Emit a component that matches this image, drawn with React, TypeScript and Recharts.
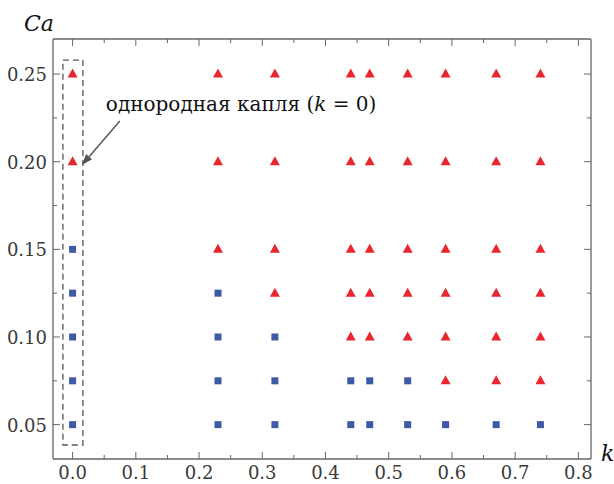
import React from 'react';
import { ScatterChart, Scatter, XAxis, YAxis, ReferenceArea, ReferenceLine, ReferenceDot } from 'recharts';

// k values used in the experiments
const kValues = [0, 0.23, 0.32, 0.44, 0.47, 0.53, 0.59, 0.67, 0.74];

// Triangles (red): regimes with break-up
const triangles = [
  { k: 0, ca: 0.25 }, { k: 0.23, ca: 0.25 }, { k: 0.32, ca: 0.25 }, { k: 0.44, ca: 0.25 }, { k: 0.47, ca: 0.25 },
  { k: 0.53, ca: 0.25 }, { k: 0.59, ca: 0.25 }, { k: 0.67, ca: 0.25 }, { k: 0.74, ca: 0.25 },
  { k: 0, ca: 0.2 }, { k: 0.23, ca: 0.2 }, { k: 0.32, ca: 0.2 }, { k: 0.44, ca: 0.2 }, { k: 0.47, ca: 0.2 },
  { k: 0.53, ca: 0.2 }, { k: 0.59, ca: 0.2 }, { k: 0.67, ca: 0.2 }, { k: 0.74, ca: 0.2 },
  { k: 0.23, ca: 0.15 }, { k: 0.32, ca: 0.15 }, { k: 0.44, ca: 0.15 }, { k: 0.47, ca: 0.15 },
  { k: 0.53, ca: 0.15 }, { k: 0.59, ca: 0.15 }, { k: 0.67, ca: 0.15 }, { k: 0.74, ca: 0.15 },
  { k: 0.32, ca: 0.125 }, { k: 0.44, ca: 0.125 }, { k: 0.47, ca: 0.125 },
  { k: 0.53, ca: 0.125 }, { k: 0.59, ca: 0.125 }, { k: 0.67, ca: 0.125 }, { k: 0.74, ca: 0.125 },
  { k: 0.44, ca: 0.1 }, { k: 0.47, ca: 0.1 }, { k: 0.53, ca: 0.1 }, { k: 0.59, ca: 0.1 }, { k: 0.67, ca: 0.1 }, { k: 0.74, ca: 0.1 },
  { k: 0.59, ca: 0.075 }, { k: 0.67, ca: 0.075 }, { k: 0.74, ca: 0.075 },
];

// Squares (blue): stable regimes
const squares = [
  { k: 0, ca: 0.15 },
  { k: 0, ca: 0.125 }, { k: 0.23, ca: 0.125 },
  { k: 0, ca: 0.1 }, { k: 0.23, ca: 0.1 }, { k: 0.32, ca: 0.1 },
  { k: 0, ca: 0.075 }, { k: 0.23, ca: 0.075 }, { k: 0.32, ca: 0.075 }, { k: 0.44, ca: 0.075 }, { k: 0.47, ca: 0.075 }, { k: 0.53, ca: 0.075 },
  { k: 0, ca: 0.05 }, { k: 0.23, ca: 0.05 }, { k: 0.32, ca: 0.05 }, { k: 0.44, ca: 0.05 }, { k: 0.47, ca: 0.05 },
  { k: 0.53, ca: 0.05 }, { k: 0.59, ca: 0.05 }, { k: 0.67, ca: 0.05 }, { k: 0.74, ca: 0.05 },
];

const xDomain = [-0.031, 0.82];
const yDomain = [0.0304, 0.27];
const xTicks = [0, 0.05, 0.1, 0.15, 0.2, 0.25, 0.3, 0.35, 0.4, 0.45, 0.5, 0.55, 0.6, 0.65, 0.7, 0.75, 0.8];
const xMajor = [0, 0.1, 0.2, 0.3, 0.4, 0.5, 0.6, 0.7, 0.8];
const yTicks = [0.05, 0.075, 0.1, 0.125, 0.15, 0.175, 0.2, 0.225, 0.25];
const yMajor = [0.05, 0.1, 0.15, 0.2, 0.25];

const annotationText = 'однородная капля';
const box = { x1: -0.0153, x2: 0.0163, y1: 0.0384, y2: 0.258 };
const arrow = [{ x: 0.0747, y: 0.2232 }, { x: 0.0147, y: 0.1981 }];
const annotationAnchor = { x: 0.0526, y: 0.2289 };

const FONT = 'DejaVu Serif';
const AXIS = '#666';
const TXT = '#3a3a3a';
const RED = '#e8262f';
const BLUE = '#3d5aa6';

const isMajor = (v: number, arr: number[]) => arr.some((m) => Math.abs(m - v) < 1e-9);

const BottomTick = (props: any) => {
  const { x, y, payload } = props;
  const major = isMajor(payload.value, xMajor);
  return (
    <g>
      <line x1={x} x2={x} y1={y} y2={y - (major ? 7 : 4)} stroke={AXIS} strokeWidth={1} />
      {major && (
        <text x={x} y={y + 20} textAnchor="middle" fontFamily={FONT} fontSize={18} fill={TXT}>
          {payload.value.toFixed(1)}
        </text>
      )}
    </g>
  );
};
const TopTick = (props: any) => {
  const { x, y, payload } = props;
  const major = isMajor(payload.value, xMajor);
  return <line x1={x} x2={x} y1={y} y2={y + (major ? 7 : 4)} stroke={AXIS} strokeWidth={1} />;
};
const LeftTick = (props: any) => {
  const { x, y, payload } = props;
  const major = isMajor(payload.value, yMajor);
  return (
    <g>
      <line x1={x} x2={x + (major ? 7 : 4)} y1={y} y2={y} stroke={AXIS} strokeWidth={1} />
      {major && (
        <text x={x - 6} y={y + 7} textAnchor="end" fontFamily={FONT} fontSize={18} fill={TXT}>
          {payload.value.toFixed(2)}
        </text>
      )}
    </g>
  );
};
const RightTick = (props: any) => {
  const { x, y, payload } = props;
  const major = isMajor(payload.value, yMajor);
  return <line x1={x} x2={x - (major ? 7 : 4)} y1={y} y2={y} stroke={AXIS} strokeWidth={1} />;
};

const Triangle = (p: any) => {
  const { cx, cy } = p;
  return <polygon points={`${cx},${cy - 5.5} ${cx - 5},${cy + 3.5} ${cx + 5},${cy + 3.5}`} fill={RED} />;
};
const Square = (p: any) => {
  const { cx, cy } = p;
  return <rect x={cx - 3.5} y={cy - 3.5} width={7} height={7} fill={BLUE} />;
};

const ArrowShape = (p: any) => {
  const { x1, y1, x2, y2 } = p;
  if ([x1, y1, x2, y2].some((v) => v == null || isNaN(v))) return null;
  const dx = x2 - x1;
  const dy = y2 - y1;
  const len = Math.sqrt(dx * dx + dy * dy);
  const ux = dx / len;
  const uy = dy / len;
  const hl = 11;
  const hw = 4;
  const bx = x2 - ux * hl;
  const by = y2 - uy * hl;
  return (
    <g>
      <line x1={x1} y1={y1} x2={bx} y2={by} stroke="#555" strokeWidth={1.4} />
      <polygon
        points={`${x2},${y2} ${bx - uy * hw},${by + ux * hw} ${bx + uy * hw},${by - ux * hw}`}
        fill="#555"
      />
    </g>
  );
};

const AnnotationShape = (p: any) => {
  const { cx, cy } = p;
  return (
    <text x={cx} y={cy} fontFamily={FONT} fontSize={20} fill="#111">
      {annotationText} (<tspan fontStyle="italic">k</tspan> = 0)
    </text>
  );
};

const YTitle = (p: any) => {
  const vb = p.viewBox || {};
  return (
    <text x={(vb.x || 0) - 28} y={(vb.y || 0) - 8} fontFamily={FONT} fontStyle="italic" fontSize={22} fill="#111">
      Ca
    </text>
  );
};
const XTitle = (p: any) => {
  const vb = p.viewBox || {};
  return (
    <text x={(vb.x || 0) + (vb.width || 0) + 10} y={(vb.y || 0) + 2} fontFamily={FONT} fontStyle="italic" fontSize={22} fill="#111">
      k
    </text>
  );
};

export default function App() {
  return (
    <div style={{ position: 'absolute', left: 0, top: 0, width: 614, height: 484, background: '#fff' }}>
      <ScatterChart width={614} height={484} margin={{ top: 38, right: 22, bottom: 24, left: 52 }}>
        <XAxis
          xAxisId="b"
          type="number"
          dataKey="k"
          orientation="bottom"
          domain={xDomain}
          ticks={xTicks}
          allowDataOverflow
          height={1}
          tickSize={0}
          tickMargin={0}
          tickLine={false}
          interval={0}
          axisLine={{ stroke: AXIS, strokeWidth: 1.3 }}
          tick={<BottomTick />}
          label={<XTitle />}
        />
        <XAxis
          xAxisId="t"
          type="number"
          dataKey="k"
          orientation="top"
          domain={xDomain}
          ticks={xTicks}
          allowDataOverflow
          height={1}
          tickSize={0}
          tickMargin={0}
          tickLine={false}
          interval={0}
          axisLine={{ stroke: AXIS, strokeWidth: 1.3 }}
          tick={<TopTick />}
        />
        <YAxis
          yAxisId="l"
          type="number"
          dataKey="ca"
          orientation="left"
          domain={yDomain}
          ticks={yTicks}
          allowDataOverflow
          width={1}
          tickSize={0}
          tickMargin={0}
          tickLine={false}
          interval={0}
          axisLine={{ stroke: AXIS, strokeWidth: 1.3 }}
          tick={<LeftTick />}
          label={<YTitle />}
        />
        <YAxis
          yAxisId="r"
          type="number"
          dataKey="ca"
          orientation="right"
          domain={yDomain}
          ticks={yTicks}
          allowDataOverflow
          width={1}
          tickSize={0}
          tickMargin={0}
          tickLine={false}
          interval={0}
          axisLine={{ stroke: AXIS, strokeWidth: 1.3 }}
          tick={<RightTick />}
        />
        <ReferenceArea
          xAxisId="b"
          yAxisId="l"
          x1={box.x1}
          x2={box.x2}
          y1={box.y1}
          y2={box.y2}
          fill="none"
          fillOpacity={0}
          stroke="#555"
          strokeWidth={1.3}
          strokeDasharray="6 4"
        />
        <Scatter xAxisId="b" yAxisId="l" data={triangles} shape={<Triangle />} isAnimationActive={false} />
        <Scatter xAxisId="b" yAxisId="l" data={squares} shape={<Square />} isAnimationActive={false} />
        <ReferenceLine xAxisId="b" yAxisId="l" segment={arrow} shape={<ArrowShape />} ifOverflow="visible" />
        <ReferenceDot
          xAxisId="b"
          yAxisId="l"
          x={annotationAnchor.x}
          y={annotationAnchor.y}
          r={0}
          shape={<AnnotationShape />}
          ifOverflow="visible"
        />
      </ScatterChart>
    </div>
  );
}
